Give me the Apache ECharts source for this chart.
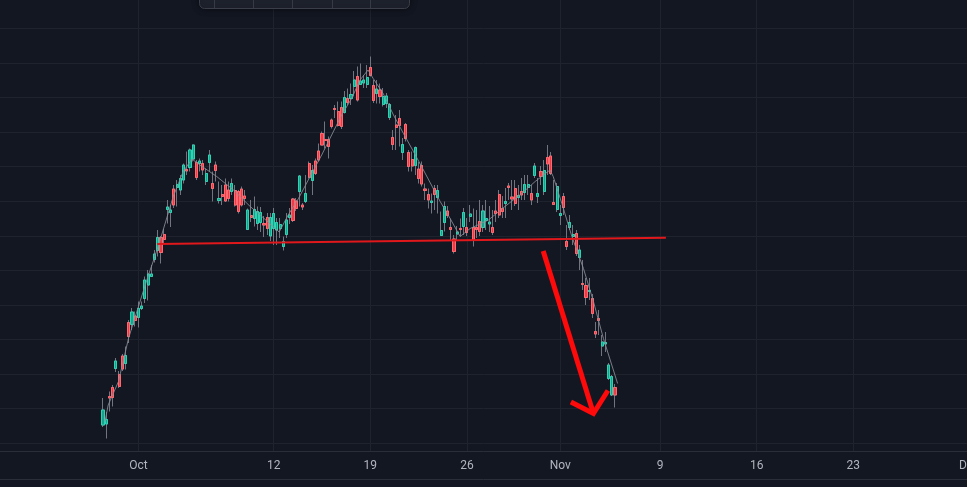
<!DOCTYPE html>
<html>
<head>
<meta charset="utf-8">
<script src="https://cdn.jsdelivr.net/npm/echarts@6/dist/echarts.min.js"></script>
<style>
html,body{margin:0;padding:0;background:#131722;}
#chart{width:967px;height:487px;}
</style>
</head>
<body>
<div id="chart"></div>
<script>
// ---- time slots & tick labels (one slot per bar, future slots left empty) ----
const slotCount = 303;
const firstBarSlot = 32;
const tickLabels = ['Oct', '12', '19', '26', 'Nov', '9', '16', '23', 'Dec'];
const tickSlots  = [43, 85, 115, 145, 174, 205, 235, 265, 301];

// ---- OHLC values ----
const opens = [
105.0,105.2,110.7,112.5,116.3,115.1,118.8,117.3,125.5,125.1,
126.8,126.5,128.3,130.3,133.0,134.7,138.1,139.9,142.5,143.1,
148.1,147.5,152.2,152.5,152.0,154.0,156.1,156.5,158.2,157.5,
157.3,157.3,153.7,157.5,153.3,157.0,149.9,151.1,153.0,152.0,
151.7,151.9,151.7,152.2,150.8,144.1,146.9,146.3,145.3,145.5,
145.3,146.5,142.8,144.3,144.0,144.3,140.7,143.1,146.5,150.2,
149.8,151.7,149.0,149.7,157.3,153.9,157.8,159.8,163.3,162.1,
162.1,166.0,168.3,167.7,168.5,167.5,170.3,170.3,172.7,174.7,
173.1,173.4,173.1,176.5,172.9,171.3,172.0,169.1,169.3,166.5,
162.5,165.0,166.3,159.5,165.1,159.5,158.1,156.9,156.2,156.9,
152.2,151.1,149.5,152.3,150.5,142.9,145.5,147.8,144.5,142.2,
143.2,144.3,144.7,144.5,146.7,144.5,144.5,145.7,144.5,145.9,
145.2,144.5,147.8,151.1,148.3,149.3,152.8,150.6,152.3,150.5,
151.7,151.5,152.5,151.3,154.9,150.7,155.7,151.7,158.5,158.8,
149.5,148.1,146.9,150.7,141.7,144.5,142.7,143.3,138.5,133.3,
132.9,131.7,130.3,123.7,126.3,120.8,121.2,114.3,111.0,112.5
];
const closes = [
108.0,106.1,110.4,110.5,117.8,112.7,116.2,118.9,122.7,127.6,
125.9,128.3,128.8,134.0,135.2,135.2,139.2,142.5,139.5,142.1,
148.6,148.0,149.0,153.1,154.3,157.0,155.8,160.0,161.0,154.5,
157.8,156.0,155.3,159.0,152.3,155.9,150.3,150.7,149.8,150.3,
153.3,149.0,147.7,149.0,150.3,148.0,146.5,148.1,147.7,147.5,
145.0,144.3,146.5,147.3,145.5,145.1,141.7,146.0,147.0,145.9,
148.3,154.8,148.6,151.3,154.5,155.9,155.3,158.0,161.0,161.9,
160.7,164.7,168.1,164.9,164.7,170.5,169.5,171.1,174.0,170.0,
173.8,174.0,174.5,174.9,169.9,172.2,170.7,170.7,170.8,169.1,
161.1,164.5,164.9,161.1,162.3,156.7,156.8,160.5,154.3,153.2,
151.9,150.0,149.8,151.1,151.9,143.9,148.7,146.9,144.1,139.7,
143.6,144.1,147.5,143.5,147.2,142.0,144.1,143.7,147.8,146.3,
145.6,143.5,147.3,147.0,147.7,149.7,152.5,150.2,149.3,150.9,
151.0,153.1,153.1,150.0,156.8,151.3,154.7,155.9,157.2,155.3,
149.1,152.7,147.3,148.5,140.7,145.5,143.1,139.3,140.0,133.1,
130.5,131.9,127.3,123.2,125.9,121.6,121.5,117.0,114.7,111.0
];
const lows = [
104.6,102.3,107.7,108.7,115.6,112.4,115.8,116.1,121.4,124.0,
124.7,124.5,128.0,129.4,129.9,134.6,137.5,138.7,137.3,141.4,
145.3,144.6,148.4,148.7,151.0,153.3,155.0,155.7,157.7,154.0,
155.7,155.0,153.0,155.7,149.7,153.7,149.3,149.0,149.6,149.7,
151.0,148.7,147.3,148.7,149.0,144.0,145.6,144.7,144.0,143.6,
142.6,143.0,141.8,141.0,141.0,142.4,139.9,142.4,145.2,145.6,
147.8,148.7,148.0,149.4,154.3,151.0,155.0,157.7,161.0,160.3,
158.3,164.3,166.4,164.7,164.2,167.3,169.0,169.0,170.7,169.7,
173.0,172.4,172.4,174.7,169.4,169.3,169.3,168.7,168.4,166.0,
160.0,160.0,160.7,158.0,161.7,155.7,155.7,155.0,153.3,152.7,
150.0,148.3,147.3,148.0,147.3,142.8,143.7,146.4,142.0,139.3,
142.0,142.7,143.0,142.8,145.6,140.7,142.4,142.8,143.6,144.0,
143.6,143.0,145.6,146.4,146.4,146.4,150.0,148.0,148.8,148.0,
150.0,150.0,151.0,149.0,154.4,149.4,153.0,151.0,155.0,155.0,
149.0,147.6,145.0,147.0,140.0,144.0,141.0,138.8,136.0,132.0,
129.0,130.0,126.4,122.4,123.0,118.8,119.6,114.0,110.8,108.5
];
const highs = [
110.4,107.6,111.7,113.0,118.4,115.8,119.2,120.7,126.0,128.4,
127.7,129.7,129.7,134.7,136.0,137.0,140.0,144.0,142.8,144.2,
150.0,149.0,153.0,154.0,155.0,157.3,159.7,160.3,161.1,158.0,
158.3,158.0,156.3,160.0,155.7,157.7,153.7,153.0,154.3,153.7,
154.3,153.0,152.0,152.7,152.0,148.3,150.0,150.7,148.7,148.6,
146.8,147.4,147.4,148.4,146.4,146.4,142.7,147.4,148.4,150.4,
150.4,155.0,149.4,155.0,157.7,157.0,158.3,161.3,163.7,165.7,
162.7,166.3,169.0,169.7,169.7,171.8,172.3,173.3,175.8,176.7,
177.3,175.0,177.0,178.7,174.0,174.0,173.3,172.4,171.4,169.4,
164.0,167.0,168.0,162.4,165.4,160.0,159.7,160.7,157.6,157.7,
153.3,152.3,151.3,153.0,153.0,147.7,149.7,148.8,146.3,143.0,
144.8,146.3,148.4,146.4,149.0,148.3,148.0,150.0,149.0,150.0,
148.8,148.0,150.0,152.0,150.8,152.4,153.4,154.0,154.0,153.0,
154.4,155.0,155.0,153.0,157.4,154.4,156.8,158.0,161.0,159.6,
154.0,153.4,149.0,151.4,145.0,147.0,145.0,144.0,141.0,138.0,
134.4,134.4,131.2,125.6,128.0,123.0,123.6,117.4,115.0,113.2
];

// ---- thin grey trend line (slot, value) ----
const trendSlots = [32.6,33.6,36.8,39.9,43,46.1,48.1,50.2,53.8,56.9,59.6,62.1,67.3,72.5,77.7,80.8,86.7,89.5,92.7,96.8,99.9,103,106.1,109.2,111.8,114.3,115.9,119,122.2,125.3,128.4,131.5,136.7,139.8,142.9,146,151.7,156.8,162,166.2,170.8,171.8,174.5,177.6,181.2,184.3,187.4,191.8];
const trendValues = [105.7,109.0,113.7,122.3,128.7,135.0,138.7,143.0,150.7,155.7,158.2,157.0,154.7,152.0,148.7,147.0,143.6,147.0,150.3,155.3,159.0,163.0,167.0,170.3,174.0,176.0,174.3,171.3,167.0,163.3,159.7,156.0,149.7,146.3,142.7,144.3,146.0,148.7,151.3,153.7,156.0,154.7,149.3,142.7,136.3,129.7,122.3,113.3];

// ---- drawings: neckline and arrow (slot, value) ----
const necklineSlots = [48.8, 206.8];
const necklineValues = [141.2, 142.46];
const arrowShaftSlots = [168.7, 184.3];
const arrowShaftValues = [139.8, 107.3];
const arrowHeadSlots = [177.3, 184.3, 188.8];
const arrowHeadValues = [109.6, 107.3, 111.9];

// ---- build library inputs ----
const categories = Array.from({length: slotCount}, (_, i) => {
  const k = tickSlots.indexOf(i);
  return k >= 0 ? tickLabels[k] : '';
});
const isTick = (i) => tickSlots.indexOf(i) >= 0;
const empty = ['-', '-', '-', '-'];
const wickData = categories.map((_, i) => {
  const j = i - firstBarSlot;
  return (j >= 0 && j < opens.length) ? [opens[j], closes[j], lows[j], highs[j]] : empty;
});
const bodyData = categories.map((_, i) => {
  const j = i - firstBarSlot;
  return (j >= 0 && j < opens.length)
    ? [opens[j], closes[j], Math.min(opens[j], closes[j]), Math.max(opens[j], closes[j])] : empty;
});
const pairs = (xs, ys) => xs.map((x, i) => [x, ys[i]]);

const gridColor = '#1f232e';
const chart = echarts.init(document.getElementById('chart'), null, {renderer: 'canvas'});
chart.setOption({
  backgroundColor: '#131722',
  animation: false,
  grid: [
    {left: 0, right: -5.44, top: 0, bottom: 36, containLabel: false, outerBoundsMode: 'none'},
    {left: 0, right: 0, top: -6.28, bottom: 43.7, containLabel: false, outerBoundsMode: 'none'}
  ],
  xAxis: [
    {
      type: 'category', gridIndex: 0, data: categories, boundaryGap: false,
      axisLine: {show: true, lineStyle: {color: '#2a2e39', width: 1}},
      axisTick: {show: false, interval: (i) => isTick(i)},
      axisLabel: {interval: (i) => isTick(i), color: '#b2b5be', fontSize: 12, margin: 9, fontFamily: 'Roboto'},
      splitLine: {show: true, interval: (i) => isTick(i), lineStyle: {color: gridColor, width: 1}}
    },
    {type: 'value', gridIndex: 0, min: 0, max: slotCount - 1, show: false},
    {type: 'value', gridIndex: 1, min: 0, max: 1, show: false}
  ],
  yAxis: [
    {type: 'value', gridIndex: 0, min: 99.8, max: 190, show: false},
    {
      type: 'value', gridIndex: 1, min: 0, max: 13, interval: 1,
      axisLine: {show: false}, axisTick: {show: false}, axisLabel: {show: false},
      splitLine: {show: true, lineStyle: {color: gridColor, width: 1}}
    }
  ],
  series: [
    {
      type: 'candlestick', xAxisIndex: 0, yAxisIndex: 0, data: wickData, barWidth: 2.6,
      itemStyle: {color: '#72757f', color0: '#72757f', borderColor: '#72757f', borderColor0: '#72757f', borderWidth: 1}
    },
    {
      type: 'line', xAxisIndex: 1, yAxisIndex: 0, data: pairs(trendSlots, trendValues),
      symbol: 'none', lineStyle: {color: '#8b8e97', width: 1, opacity: 0.85}
    },
    {
      type: 'candlestick', xAxisIndex: 0, yAxisIndex: 0, data: bodyData, barWidth: 2.6,
      itemStyle: {color: '#14a38c', color0: '#f03a46', borderColor: '#2ed3b4', borderColor0: '#ff6a70', borderWidth: 1}
    },
    {
      type: 'line', xAxisIndex: 1, yAxisIndex: 0, data: pairs(necklineSlots, necklineValues),
      symbol: 'none', lineStyle: {color: '#e0181c', width: 2}
    },
    {
      type: 'line', xAxisIndex: 1, yAxisIndex: 0, data: pairs(arrowShaftSlots, arrowShaftValues),
      symbol: 'none', lineStyle: {color: '#ff0a0a', width: 5, cap: 'butt', join: 'miter'}
    },
    {
      type: 'line', xAxisIndex: 1, yAxisIndex: 0, data: pairs(arrowHeadSlots, arrowHeadValues),
      symbol: 'none', lineStyle: {color: '#ff0a0a', width: 5, cap: 'butt', join: 'miter'}
    }
  ],
  graphic: [
    {type: 'line', shape: {x1: 0, y1: 479.5, x2: 967, y2: 479.5}, style: {stroke: '#2a2e39', lineWidth: 1}, z: 50},
    {type: 'rect', shape: {x: 199.5, y: -10, width: 210, height: 18.5, r: 5},
     style: {fill: '#1e222d', stroke: '#3a3e49', lineWidth: 1, shadowBlur: 6, shadowColor: 'rgba(0,0,0,0.55)'}, z: 100},
    {type: 'line', shape: {x1: 214.5, y1: 0, x2: 214.5, y2: 8}, style: {stroke: '#363a45', lineWidth: 1}, z: 101},
    {type: 'line', shape: {x1: 253.5, y1: 0, x2: 253.5, y2: 8}, style: {stroke: '#363a45', lineWidth: 1}, z: 101},
    {type: 'line', shape: {x1: 292.5, y1: 0, x2: 292.5, y2: 8}, style: {stroke: '#363a45', lineWidth: 1}, z: 101},
    {type: 'line', shape: {x1: 332.5, y1: 0, x2: 332.5, y2: 8}, style: {stroke: '#363a45', lineWidth: 1}, z: 101},
    {type: 'line', shape: {x1: 370.5, y1: 0, x2: 370.5, y2: 8}, style: {stroke: '#363a45', lineWidth: 1}, z: 101}
  ]
});
</script>
</body>
</html>
